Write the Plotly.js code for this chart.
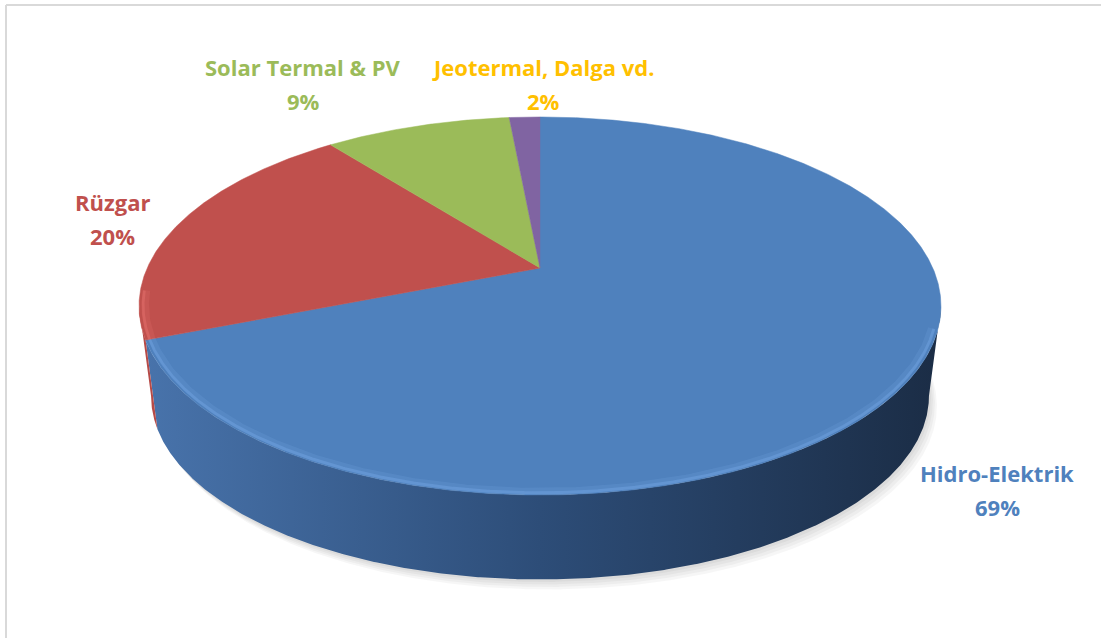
<!DOCTYPE html>
<html>
<head>
<meta charset="utf-8">
<script src="https://cdn.plot.ly/plotly-3.0.1.min.js"></script>
<style>
  html, body { margin: 0; padding: 0; background: #ffffff; }
  #chart { width: 1101px; height: 638px; }
</style>
</head>
<body>
<div id="chart"></div>
<script>
// ---- data ----
const labels = ['Hidro-Elektrik', 'Rüzgar', 'Solar Termal & PV', 'Jeotermal, Dalga vd.'];
const values = [69.0, 20.4, 9.1, 1.5];
const sliceColors = ['#4F81BD', '#C0504D', '#9BBB59', '#8064A2'];
const labelColors = ['#4F81BD', '#C0504D', '#9BBB59', '#FFC000'];
const sideScales = [
  [[0, '#4873ab'], [0.5, '#2d4d78'], [1, '#1b2d46']],
  [[0, '#b64a47'], [1, '#a94542']],
  [[0, '#8aa74f'], [1, '#7d9847']],
  [[0, '#6f5790'], [1, '#644e82']]
];

// ---- 3D pie geometry (layout constants, pixel-like axis units) ----
const CX = 540, CY = 268, A = 392.8, B = 181.4, K = 0.201;
const VX = 540, VY = 3310, S = 0.97;
const STEP = Math.PI / 720;

function topPt(phi) {
  const u = Math.sin(phi), z = -Math.cos(phi), d = 1 - K * z;
  return [CX + A * u / d, CY + B * z / d];
}
function botPt(p) {
  return [VX + S * (p[0] - VX), VY + S * (p[1] - VY)];
}
function arc(a0, a1) {
  const pts = [];
  const n = Math.max(2, Math.ceil((a1 - a0) / STEP));
  for (let i = 0; i <= n; i++) pts.push(topPt(a0 + (a1 - a0) * i / n));
  return pts;
}
function inset(p, f) {
  return [CX + (p[0] - CX) * f, CY + (p[1] - CY) * f];
}

const total = values.reduce((s, v) => s + v, 0);
const bounds = [];
let acc = 0;
values.forEach(v => { const a0 = acc / total * 2 * Math.PI; acc += v; bounds.push([a0, acc / total * 2 * Math.PI]); });

const traces = [];

// soft shadow
for (let i = 1; i <= 4; i++) {
  const pts = arc(0, 2 * Math.PI).map(p => botPt(p));
  traces.push({
    type: 'scatter', mode: 'lines', hoverinfo: 'skip', showlegend: false,
    x: pts.map(p => p[0] + 2 * i), y: pts.map(p => p[1] + 2.5 * i),
    fill: 'toself', fillcolor: 'rgba(0,0,0,0.035)', line: { width: 0 }
  });
}

// visible outer wall
const visL = Math.acos(-K), visR = 2 * Math.PI - Math.acos(-K);
bounds.forEach((b, i) => {
  const a0 = Math.max(b[0], visL), a1 = Math.min(b[1], visR);
  if (a1 <= a0) return;
  const tp = arc(a0, a1);
  const bp = tp.map(botPt).reverse();
  const pts = tp.concat(bp);
  pts.push(tp[0]);
  traces.push({
    type: 'scatter', mode: 'lines', hoverinfo: 'skip', showlegend: false,
    x: pts.map(p => p[0]), y: pts.map(p => p[1]),
    fill: 'toself', line: { width: 0 },
    fillcolor: sideScales[i][0][1],
    fillgradient: { type: 'horizontal', colorscale: sideScales[i], start: CX - 395, stop: CX + 395 }
  });
});

// top face slices
bounds.forEach((b, i) => {
  const pts = [[CX, CY]].concat(arc(b[0], b[1]));
  pts.push([CX, CY]);
  traces.push({
    type: 'scatter', mode: 'lines', hoverinfo: 'skip', showlegend: false,
    name: labels[i],
    x: pts.map(p => p[0]), y: pts.map(p => p[1]),
    fill: 'toself', fillcolor: sliceColors[i],
    line: { width: 0.5, color: sliceColors[i] }
  });
});

// rim highlight (bevel) along the visible front edge, kept inside the top face
bounds.forEach((b, i) => {
  const a0 = Math.max(b[0], visL + 0.12), a1 = Math.min(b[1], visR + 0.08);
  if (a1 <= a0) return;
  const base = arc(a0, a1);
  [[7, 0.22, 0.984], [3, 0.5, 0.99]].forEach(s => {
    const pts = base.map(p => inset(p, s[2]));
    traces.push({
      type: 'scatter', mode: 'lines', hoverinfo: 'skip', showlegend: false,
      x: pts.map(p => p[0]), y: pts.map(p => p[1]),
      line: { width: s[0], color: i === 0 ? 'rgba(112,162,224,' + s[1] + ')' : 'rgba(228,112,108,' + s[1] + ')' }
    });
  });
});

// ---- labels ----
const labelPos = [[997, 473], [112, 202], [303, 67], [543, 67]];
const annotations = [];
labels.forEach((lab, i) => {
  const f = { family: 'Open Sans, sans-serif', size: 22, color: labelColors[i], weight: 'bold' };
  annotations.push({ x: labelPos[i][0], y: labelPos[i][1], xref: 'x', yref: 'y', text: lab, showarrow: false, font: f, xanchor: 'center', yanchor: 'middle' });
  annotations.push({ x: labelPos[i][0], y: labelPos[i][1] + 34, xref: 'x', yref: 'y', text: Math.round(values[i] / total * 100) + '%', showarrow: false, font: f, xanchor: 'center', yanchor: 'middle' });
});

const layout = {
  width: 1101, height: 638, autosize: false,
  margin: { l: 0, r: 0, t: 0, b: 0 },
  paper_bgcolor: '#ffffff', plot_bgcolor: '#ffffff',
  showlegend: false,
  xaxis: { range: [0, 1101], visible: false, fixedrange: true },
  yaxis: { range: [638, 0], visible: false, fixedrange: true },
  annotations: annotations,
  shapes: [
    { type: 'line', xref: 'paper', yref: 'paper', x0: 6 / 1101, x1: 1, y0: 1 - 5 / 638, y1: 1 - 5 / 638, line: { color: '#d9d9d9', width: 2 } },
    { type: 'line', xref: 'paper', yref: 'paper', x0: 6 / 1101, x1: 6 / 1101, y0: 0, y1: 1 - 5 / 638, line: { color: '#d9d9d9', width: 2 } }
  ]
};

Plotly.newPlot('chart', traces, layout, { staticPlot: true, displayModeBar: false });
</script>
</body>
</html>
